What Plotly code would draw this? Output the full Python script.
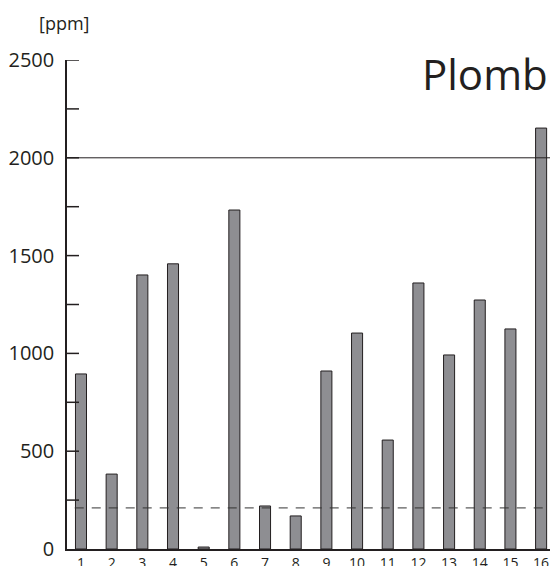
import plotly.graph_objects as go

categories = [str(i) for i in range(1, 17)]
values = [895, 383, 1401, 1458, 10, 1733, 220, 169, 910, 1104, 557, 1360, 992, 1273, 1125, 2152]
upper_limit = 2000
lower_limit = 210
y_major = [0, 500, 1000, 1500, 2000, 2500]
y_minor = [250, 750, 1250, 1750, 2250]
title_text = "Plomb"
unit_text = "[ppm]"

x_num = list(range(1, 17))
ink = "#231f20"
tick_frac = 12 / 483  # inward tick length as a fraction of plot width

fig = go.Figure()
fig.add_trace(go.Bar(
    x=x_num, y=values, width=0.36,
    marker=dict(color="#8e8e92", line=dict(color=ink, width=1)),
))

# inward ticks on the y axis (major and minor)
for v in sorted(y_major + y_minor):
    if v == 0:
        continue
    fig.add_shape(type="line", xref="paper", yref="y", x0=0, x1=tick_frac, y0=v, y1=v,
                  line=dict(color=ink, width=1.5), layer="above")

fig.add_shape(type="line", xref="paper", yref="y", x0=0, x1=1, y0=upper_limit, y1=upper_limit,
              line=dict(color=ink, width=1))
fig.add_shape(type="line", xref="paper", yref="y", x0=0.016, x1=1, y0=lower_limit, y1=lower_limit,
              line=dict(color="#333333", width=1, dash="9px,8px"))

fig.add_annotation(text=title_text, xref="paper", yref="paper", x=1.0, y=0.973,
                   xanchor="right", yanchor="middle", showarrow=False,
                   font=dict(family="Open Sans", size=42, color=ink))
fig.add_annotation(text=unit_text, xref="paper", yref="paper", x=-0.006, y=1.0757,
                   xanchor="center", yanchor="middle", showarrow=False,
                   font=dict(family="Open Sans", size=18, color=ink))

fig.update_layout(
    width=550, height=566,
    margin=dict(l=67, r=0, t=60, b=17),
    plot_bgcolor="white", paper_bgcolor="white",
    showlegend=False,
    font=dict(family="Open Sans", color=ink),
)
fig.update_xaxes(
    range=[0.544, 16.29], tickvals=x_num, ticktext=categories,
    showgrid=False, zeroline=False, showline=True, linecolor=ink, linewidth=1.5,
    ticks="", tickfont=dict(size=14, color=ink), automargin=False,
)
fig.update_yaxes(
    range=[0, 2500], tickvals=y_major,
    showgrid=False, zeroline=False, showline=True, linecolor=ink, linewidth=1.5,
    ticks="outside", ticklen=7, tickcolor="rgba(0,0,0,0)",
    tickfont=dict(size=20, color=ink), automargin=False,
)

fig.write_html("out.html")
